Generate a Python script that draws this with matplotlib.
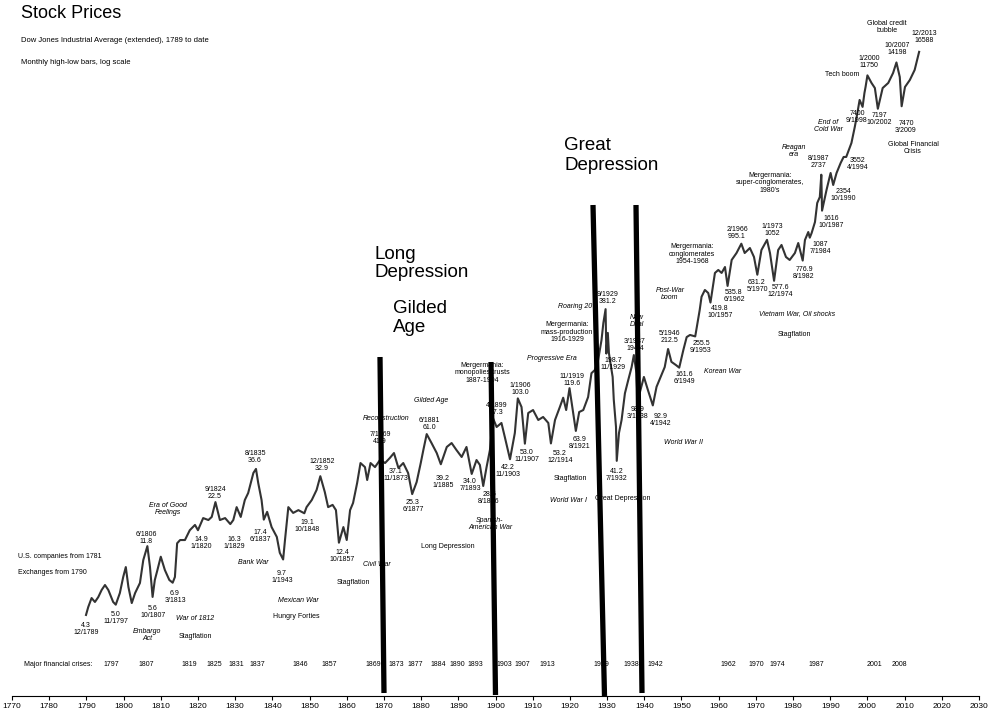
import matplotlib
matplotlib.use("Agg")
import matplotlib.pyplot as plt
from matplotlib.lines import Line2D

plt.rcParams['font.family'] = ['Liberation Sans', 'DejaVu Sans']

W, H = 994, 714

# Dow Jones (extended)
years = [1789.9, 1790.5, 1791.4, 1792.3, 1793.2, 1794.1, 1795.0, 1795.9, 1797.2, 1797.9,
         1799.0, 1799.9, 1800.6, 1801.3, 1802.2, 1803.1, 1804.4, 1805.3, 1806.4, 1807.1,
         1807.8, 1808.4, 1809.1, 1810.0, 1811.1, 1812.3, 1813.2, 1813.8, 1814.4, 1815.2,
         1816.5, 1817.8, 1819.2, 1820.0, 1821.4, 1822.8, 1823.7, 1824.7, 1825.9, 1827.3,
         1828.7, 1829.5, 1830.4, 1831.5, 1832.6, 1833.5, 1834.2, 1834.9, 1835.6, 1836.2,
         1837.1, 1837.7, 1838.6, 1839.8, 1841.2, 1842.0, 1842.9, 1843.4, 1844.3, 1845.6,
         1847.0, 1848.6, 1849.2, 1850.6, 1851.9, 1852.9, 1854.1, 1855.0, 1856.2, 1857.1,
         1857.9, 1859.1, 1860.0, 1860.9, 1861.7, 1862.8, 1863.7, 1864.9, 1865.5, 1866.4,
         1867.6, 1869.0, 1870.3, 1871.6, 1872.7, 1873.9, 1875.2, 1876.5, 1877.6, 1878.8,
         1879.9, 1880.6, 1881.5, 1882.8, 1884.2, 1885.3, 1886.9, 1888.2, 1889.5, 1890.9,
         1892.2, 1893.6, 1894.9, 1895.8, 1896.7, 1897.6, 1898.5, 1899.3, 1900.3, 1901.6,
         1902.5, 1903.9, 1905.2, 1906.0, 1907.0, 1907.9, 1908.8, 1910.1, 1911.5, 1912.8,
         1914.2, 1914.9, 1916.0, 1917.3, 1918.2, 1919.0, 1919.9, 1921.6, 1922.5, 1923.6,
         1924.9, 1925.8, 1926.7, 1927.6, 1928.5, 1929.0, 1929.6, 1929.8, 1930.2, 1930.5,
         1930.9, 1931.5, 1931.8, 1932.4, 1932.6, 1933.2, 1933.9, 1934.8, 1935.7, 1936.6,
         1937.2, 1937.9, 1938.2, 1939.9, 1941.0, 1942.3, 1943.3, 1944.4, 1945.5, 1946.4,
         1947.3, 1948.5, 1949.4, 1950.5, 1951.4, 1952.3, 1953.7, 1954.9, 1955.4, 1956.3,
         1957.2, 1957.8, 1959.0, 1959.9, 1960.8, 1961.7, 1962.4, 1963.5, 1964.8, 1966.1,
         1967.0, 1968.4, 1969.5, 1970.4, 1971.5, 1973.0, 1973.8, 1974.9, 1976.0, 1976.9,
         1978.1, 1979.1, 1980.5, 1981.4, 1982.6, 1983.2, 1984.1, 1984.5, 1985.0, 1985.9,
         1986.5, 1987.2, 1987.6, 1987.8, 1989.0, 1990.1, 1990.8, 1991.7, 1992.8, 1993.6,
         1994.3, 1995.7, 1996.6, 1997.3, 1997.9, 1998.7, 1999.2, 1999.5, 2000.0, 2001.1,
         2002.0, 2002.8, 2004.1, 2005.6, 2006.9, 2007.8, 2008.7, 2009.2, 2010.1, 2011.4,
         2012.7, 2013.9]
values = [4.3, 4.83, 5.51, 5.2, 5.59, 6.2, 6.67, 6.2, 5.2, 5.0,
          5.93, 7.5, 8.68, 6.48, 5.12, 5.93, 6.87, 9.62, 11.8, 8.68,
          5.6, 7.18, 8.31, 10.1, 8.31, 7.18, 6.9, 7.5, 12.3, 12.9,
          12.9, 14.9, 16.1, 14.9, 17.8, 17.3, 18.1, 22.5, 17.3, 17.8,
          16.3, 17.3, 20.9, 18.1, 23.2, 25.7, 29.8, 34.5, 36.6, 29.8,
          23.2, 17.4, 19.5, 15.6, 13.5, 10.7, 9.7, 12.9, 20.9, 19.2,
          20.0, 19.1, 20.9, 23.2, 26.9, 32.9, 26.1, 20.9, 21.6, 20.0,
          12.4, 15.6, 12.9, 20.0, 22.2, 29.8, 39.9, 37.6, 31.1, 39.9,
          37.6, 41.9, 39.9, 43.0, 46.2, 37.1, 39.9, 34.5, 25.3, 30.2,
          39.9, 48.3, 61.0, 53.5, 46.2, 39.2, 50.5, 53.5, 48.3, 43.6,
          50.5, 34.0, 41.7, 38.8, 28.5, 37.6, 48.3, 77.3, 67.7, 71.8,
          58.5, 42.2, 62.0, 103.0, 90.7, 53.0, 83.1, 86.8, 75.0, 78.4,
          71.8, 53.2, 75.0, 90.7, 104, 86.8, 119.6, 63.9, 84.3, 86.8,
          105, 149, 156, 181, 242, 311, 381.2, 198.7, 269, 200,
          173, 141, 101, 67.7, 41.2, 62.0, 75.0, 111, 135, 163,
          194.4, 149, 98.9, 141, 116, 92.9, 122, 141, 163, 212.5,
          176, 168, 161.6, 209, 253, 261, 255.5, 376, 457, 505,
          483, 419.8, 648, 677, 648, 707, 535.8, 784, 868, 995.1,
          868, 934, 819, 631.2, 907, 1052, 868, 577.6, 907, 977,
          819, 784, 868, 1005, 776.9, 1050, 1181, 1087, 1164, 1368,
          1807, 1974, 2737, 1616, 2187, 2807, 2354, 2807, 3251, 3550,
          3552, 4357, 5512, 6765, 8193, 7400, 9075, 9910, 11750, 10510,
          9760, 7197, 9760, 10510, 12170, 14198, 11470, 7470, 9910, 10975,
          12720, 16588]

crisis_years = ["1797", "1807", "1819", "1825", "1831", "1837", "1846", "1857", "1869",
                "1873", "1877", "1884", "1890", "1893", "1903", "1907", "1913", "1929",
                "1938", "1942", "1962", "1970", "1974", "1987", "2001", "2008"]
crisis_px = [111, 146, 189, 214, 236, 257, 300, 329, 373, 396, 415, 438, 457, 475,
             504, 522, 547, 601, 631, 655, 728, 756, 777, 816, 874, 899]

# etiquettes (texte, x px, y px, italique)
labels = [
    ("4.3\n12/1789", 86, 629, False), ("5.0\n11/1797", 116, 618, False),
    ("6/1806\n11.8", 146, 538, False), ("5.6\n10/1807", 153, 612, False),
    ("6.9\n3/1813", 175, 597, False), ("Era of Good\nFeelings", 168, 509, True),
    ("9/1824\n22.5", 215, 493, False), ("14.9\n1/1820", 201, 543, False),
    ("16.3\n1/1829", 234, 543, False), ("17.4\n6/1837", 260, 536, False),
    ("8/1835\n36.6", 255, 457, False), ("Embargo\nAct", 147, 635, True),
    ("War of 1812", 195, 619, True), ("Stagflation", 195, 636, False),
    ("Bank War", 253, 562, True), ("9.7\n1/1943", 282, 577, False),
    ("Mexican War", 298, 600, True), ("Hungry Forties", 296, 617, False),
    ("19.1\n10/1848", 307, 526, False), ("12/1852\n32.9", 322, 465, False),
    ("12.4\n10/1857", 342, 556, False), ("Civil War", 377, 564, True),
    ("Stagflation", 353, 582, False), ("Reconstruction", 386, 418, True),
    ("7/1869\n41.9", 380, 438, False), ("37.1\n11/1873", 396, 475, False),
    ("25.3\n6/1877", 413, 506, False), ("Gilded Age", 431, 400, True),
    ("6/1881\n61.0", 429, 424, False), ("39.2\n1/1885", 443, 482, False),
    ("34.0\n7/1893", 470, 485, False), ("28.5\n8/1896", 489, 498, False),
    ("Long Depression", 448, 546, False), ("Spanish-\nAmerican War", 490, 524, True),
    ("Mergermania:\nmonopolies/trusts\n1887-1904", 482, 373, False),
    ("4/1899\n77.3", 497, 409, False), ("1/1906\n103.0", 520, 389, False),
    ("42.2\n11/1903", 508, 471, False), ("53.0\n11/1907", 527, 456, False),
    ("Progressive Era", 552, 359, True), ("53.2\n12/1914", 560, 457, False),
    ("11/1919\n119.6", 572, 380, False), ("63.9\n8/1921", 580, 443, False),
    ("Stagflation", 570, 479, False), ("World War I", 568, 501, True),
    ("Roaring 20's", 577, 307, True),
    ("Mergermania:\nmass-production\n1916-1929", 567, 332, False),
    ("9/1929\n381.2", 608, 298, False), ("198.7\n11/1929", 613, 364, False),
    ("41.2\n7/1932", 617, 475, False), ("Great Depression", 623, 499, False),
    ("New\nDeal", 637, 321, True), ("3/1937\n194.4", 635, 345, False),
    ("98.9\n3/1938", 638, 413, False), ("92.9\n4/1942", 661, 420, False),
    ("World War II", 683, 442, True), ("5/1946\n212.5", 669, 337, False),
    ("Post-War\nboom", 670, 294, True), ("161.6\n6/1949", 684, 378, False),
    ("255.5\n9/1953", 701, 347, False), ("Korean War", 723, 371, True),
    ("Mergermania:\nconglomerates\n1954-1968", 692, 254, False),
    ("419.8\n10/1957", 720, 312, False), ("535.8\n6/1962", 734, 296, False),
    ("2/1966\n995.1", 737, 233, False), ("631.2\n5/1970", 757, 286, False),
    ("1/1973\n1052", 772, 230, False), ("577.6\n12/1974", 780, 291, False),
    ("Vietnam War, Oil shocks", 797, 314, True), ("Stagflation", 794, 335, False),
    ("776.9\n8/1982", 804, 273, False), ("1087\n7/1984", 820, 248, False),
    ("1616\n10/1987", 831, 222, False), ("2354\n10/1990", 843, 195, False),
    ("8/1987\n2737", 818, 162, False), ("Reagan\nera", 794, 151, True),
    ("Mergermania:\nsuper-conglomerates,\n1980's", 770, 183, False),
    ("3552\n4/1994", 858, 164, False), ("End of\nCold War", 828, 126, True),
    ("7400\n9/1998", 857, 117, False), ("7197\n10/2002", 879, 119, False),
    ("Tech boom", 842, 74, False), ("1/2000\n11750", 869, 62, False),
    ("10/2007\n14198", 897, 49, False), ("Global credit\nbubble", 887, 27, False),
    ("12/2013\n16588", 924, 37, False), ("7470\n3/2009", 906, 127, False),
    ("Global Financial\nCrisis", 913, 148, False),
]

# traits verticaux dessinés à la main (haut, bas) en pixels
traits = [((380, 357), (384, 693)), ((491, 362), (495.5, 695)),
          ((593, 205), (604.5, 696)), ((636, 205), (642, 693))]


def fx(x):
    return x / W


def fy(y):
    return 1 - y / H


fig = plt.figure(figsize=(W / 100, H / 100), dpi=100)
ax = fig.add_axes([12 / W, 18 / H, 967 / W, 696 / H])
ax.set_yscale('log')
ax.set_xlim(1770, 2030)
ax.set_ylim(1.31, 35480)
ax.plot(years, values, color='#333333', lw=1.5, zorder=2)

ax.set_xticks(range(1770, 2031, 10))
ax.tick_params(axis='x', length=3, width=0.8, pad=2, labelsize=6)
ax.yaxis.set_visible(False)
for s in ['left', 'right', 'top']:
    ax.spines[s].set_visible(False)
ax.spines['bottom'].set_linewidth(0.8)
ax.patch.set_alpha(0)

# titres
fig.text(fx(21), fy(13), "Stock Prices", fontsize=13, ha='left', va='center')
fig.text(fx(21), fy(41), "Dow Jones Industrial Average (extended), 1789 to date",
         fontsize=5.5, ha='left', va='center')
fig.text(fx(21), fy(63), "Monthly high-low bars, log scale", fontsize=5.5, ha='left', va='center')
fig.text(fx(18), fy(557), "U.S. companies from 1781", fontsize=5, ha='left', va='center')
fig.text(fx(18), fy(573), "Exchanges from 1790", fontsize=5, ha='left', va='center')

for s, x, y, it in labels:
    fig.text(fx(x), fy(y), s, fontsize=5, ha='center', va='center',
             style='italic' if it else 'normal', linespacing=1.15)

# crises
fig.text(fx(24), fy(664), "Major financial crises:", fontsize=5, ha='left', va='center')
for s, x in zip(crisis_years, crisis_px):
    fig.text(fx(x), fy(664), s, fontsize=5, ha='center', va='center')

# gros textes
fig.text(fx(375), fy(263.5), "Long\nDepression", fontsize=13.5, ha='left', va='center', linespacing=1.15)
fig.text(fx(393), fy(318), "Gilded\nAge", fontsize=13.5, ha='left', va='center', linespacing=1.2)
fig.text(fx(564), fy(155.5), "Great\nDepression", fontsize=13.5, ha='left', va='center', linespacing=1.2)

for (x0, y0), (x1, y1) in traits:
    fig.add_artist(Line2D([fx(x0), fx(x1)], [fy(y0), fy(y1)], color='black', lw=3.8,
                          solid_capstyle='butt', zorder=5))

fig.savefig("out.png", dpi=100)
